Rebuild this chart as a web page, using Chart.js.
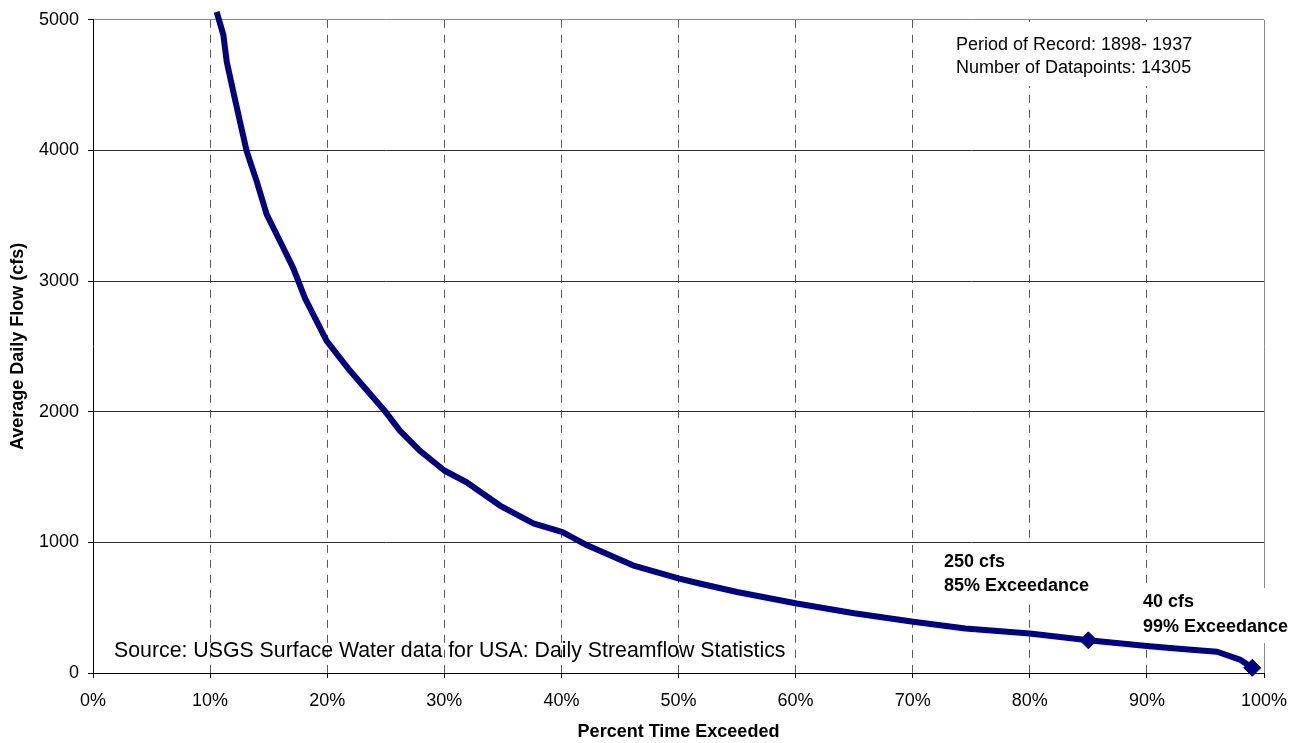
<!DOCTYPE html>
<html>
<head>
<meta charset="utf-8">
<title>Flow Duration Curve</title>
<script src="https://cdn.jsdelivr.net/npm/chart.js@4.4.0/dist/chart.umd.min.js"></script>
<style>
  html, body { margin: 0; padding: 0; background: #ffffff; }
  canvas { display: block; }
</style>
</head>
<body>
<canvas id="flowChart" width="1304" height="743"></canvas>
<script>
// Flow duration curve: percent of time exceeded vs. average daily flow (cfs)
const exceedPct = [10.56, 11.13, 11.42, 11.98, 12.55, 13.13, 13.98, 14.83, 16.1, 17.1,
                   18.1, 19.95, 21.95, 24.9, 26.2, 27.9, 30.0, 31.9, 34.75, 37.6,
                   40.1, 42.2, 46.1, 50.07, 51.8, 55, 60.1, 65, 70.05, 74.5,
                   80, 85, 90, 93, 96, 98, 99];
const flowCfs = [5061, 4885, 4679, 4450, 4221, 3992, 3763, 3511, 3282, 3099,
                 2870, 2542, 2313, 2008, 1855, 1702, 1550, 1460, 1282, 1145,
                 1079, 977, 824, 723, 685, 620, 532, 458, 392, 340,
                 303, 250, 206, 183, 163, 100, 40];

// Highlighted exceedance points
const markerPct = [85, 99];
const markerCfs = [250, 40];

// Axis ticks
const xTickValues = [0, 10, 20, 30, 40, 50, 60, 70, 80, 90, 100];
const yTickValues = [0, 1000, 2000, 3000, 4000, 5000];

// Notes drawn on the plot
const recordNote = ['Period of Record: 1898- 1937', 'Number of Datapoints: 14305'];
const sourceNote = 'Source: USGS Surface Water data for USA: Daily Streamflow Statistics';
const markerNotes = [['250 cfs', '85% Exceedance'], ['40 cfs', '99% Exceedance']];

const FONT = '"Liberation Sans", Arial, Helvetica, sans-serif';
const NAVY = '#000080';
const DASH = [8, 7];

const curvePoints = exceedPct.map((p, i) => ({ x: p, y: flowCfs[i] }));
const markerPoints = markerPct.map((p, i) => ({ x: p, y: markerCfs[i] }));

// White page background
const backgroundPlugin = {
  id: 'pageBackground',
  beforeDraw(chart) {
    const ctx = chart.ctx;
    ctx.save();
    ctx.fillStyle = '#ffffff';
    ctx.fillRect(0, 0, chart.width, chart.height);
    ctx.restore();
  }
};

// Right frame edge and text notes (boxed notes hide the grid behind them)
const notesPlugin = {
  id: 'plotNotes',
  beforeDatasetsDraw(chart) {
    const ctx = chart.ctx;
    const area = chart.chartArea;
    ctx.save();
    ctx.setLineDash([]);

    // right edge of the plot frame
    ctx.strokeStyle = '#8c8c8c';
    ctx.lineWidth = 1;
    ctx.beginPath();
    ctx.moveTo(Math.round(area.right) + 0.5, area.top);
    ctx.lineTo(Math.round(area.right) + 0.5, area.bottom);
    ctx.stroke();

    // white boxes behind the notes
    ctx.fillStyle = '#ffffff';
    ctx.fillRect(940, 22, 318, 64);
    ctx.fillRect(935, 544, 165, 58);
    ctx.fillRect(1136, 588, 168, 55);

    ctx.fillStyle = '#000000';
    ctx.textAlign = 'left';
    ctx.textBaseline = 'alphabetic';

    ctx.font = '18px ' + FONT;
    ctx.fillText(recordNote[0], 956, 50);
    ctx.fillText(recordNote[1], 956, 73);

    ctx.font = '21.3px ' + FONT;
    ctx.fillText(sourceNote, 114, 657);

    ctx.font = 'bold 18px ' + FONT;
    ctx.fillText(markerNotes[0][0], 944, 567);
    ctx.fillText(markerNotes[0][1], 944, 591);
    ctx.fillText(markerNotes[1][0], 1143, 607);
    ctx.fillText(markerNotes[1][1], 1143, 632);

    ctx.restore();
  }
};

new Chart(document.getElementById('flowChart'), {
  type: 'scatter',
  data: {
    datasets: [
      {
        label: 'Flow duration',
        data: curvePoints,
        showLine: true,
        borderColor: NAVY,
        borderWidth: 6,
        borderJoinStyle: 'round',
        pointRadius: 0,
        tension: 0,
        clip: { left: 5, top: 12, right: 12, bottom: 5 }
      },
      {
        label: 'Exceedance points',
        data: markerPoints,
        showLine: false,
        pointStyle: 'rectRot',
        pointRadius: 8.5,
        pointBackgroundColor: NAVY,
        pointBorderColor: NAVY,
        pointBorderWidth: 1,
        clip: { left: 5, top: 12, right: 12, bottom: 12 }
      }
    ]
  },
  options: {
    responsive: false,
    devicePixelRatio: 1,
    animation: false,
    events: [],
    layout: { padding: { top: 19, right: 40, left: 0, bottom: 0 } },
    plugins: {
      legend: { display: false },
      tooltip: { enabled: false },
      title: { display: false }
    },
    scales: {
      x: {
        type: 'linear',
        min: 0,
        max: 100,
        afterFit(scale) { scale.height = 70; },
        afterBuildTicks(scale) { scale.ticks = xTickValues.map(v => ({ value: v })); },
        ticks: {
          color: '#000000',
          font: { family: FONT, size: 18 },
          padding: 12,
          maxRotation: 0,
          autoSkip: false,
          callback: v => v + '%'
        },
        grid: {
          color: c => (c.tick && (c.tick.value === 0 || c.tick.value === 100)) ? 'rgba(0,0,0,0)' : '#5a5a5a',
          lineWidth: 1,
          borderDash: DASH,
          tickBorderDash: [],
          tickColor: '#000000',
          tickLength: 5,
          tickWidth: 1
        },
        border: { display: true, color: '#000000', width: 1, dash: DASH },
        title: {
          display: true,
          text: 'Percent Time Exceeded',
          color: '#000000',
          font: { family: FONT, size: 18, weight: 'bold' },
          padding: { top: 0, bottom: 0 }
        }
      },
      y: {
        type: 'linear',
        min: 0,
        max: 5000,
        afterFit(scale) { scale.width = 93; },
        afterBuildTicks(scale) { scale.ticks = yTickValues.map(v => ({ value: v })); },
        ticks: {
          color: '#000000',
          font: { family: FONT, size: 18 },
          padding: 9,
          callback: v => String(v)
        },
        grid: {
          color: c => (c.tick && c.tick.value === 5000) ? '#8c8c8c' : '#2e2e2e',
          lineWidth: 1,
          tickColor: '#000000',
          tickLength: 5,
          tickWidth: 1
        },
        border: { display: true, color: '#000000', width: 1 },
        title: {
          display: true,
          text: 'Average Daily Flow (cfs)',
          color: '#000000',
          font: { family: FONT, size: 18, weight: 'bold' },
          padding: { top: 7, bottom: 0 }
        }
      }
    }
  },
  plugins: [backgroundPlugin, notesPlugin]
});
</script>
</body>
</html>
